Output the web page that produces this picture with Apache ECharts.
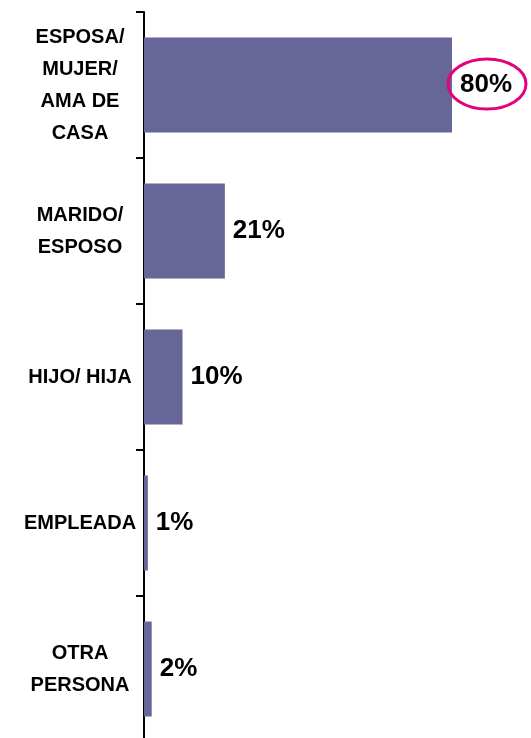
<!DOCTYPE html>
<html>
<head>
<meta charset="utf-8">
<script src="https://cdn.jsdelivr.net/npm/echarts@6/dist/echarts.min.js"></script>
<style>
html,body{margin:0;padding:0;background:#fff;overflow:hidden;}
#c{width:531px;height:746px;}
</style>
</head>
<body>
<div id="c"></div>
<script>
const categories = ['ESPOSA/\nMUJER/\nAMA DE\nCASA', 'MARIDO/\nESPOSO', 'HIJO/ HIJA', 'EMPLEADA', 'OTRA\nPERSONA'];
const values = [80, 21, 10, 1, 2];
const highlightIndex = 0;

const chart = echarts.init(document.getElementById('c'), null, {renderer: 'canvas'});
chart.setOption({
  animation: false,
  backgroundColor: '#ffffff',
  grid: {left: 144, top: 12, width: 385, height: 730, containLabel: false},
  xAxis: {
    type: 'value', min: 0, max: 100, show: false
  },
  yAxis: {
    type: 'category',
    data: categories,
    inverse: true,
    axisLine: {show: true, lineStyle: {color: '#000', width: 2}},
    axisTick: {show: true, length: 8, lineStyle: {color: '#000', width: 2}},
    axisLabel: {
      align: 'center', margin: 64,
      fontFamily: 'Liberation Sans, Arial, sans-serif', fontWeight: 'bold',
      fontSize: 20, lineHeight: 32, color: '#000'
    },
    splitLine: {show: false}
  },
  series: [
    {
      type: 'bar',
      data: values,
      barWidth: 95,
      itemStyle: {color: '#666699'},
      label: {
        show: true, position: 'right', distance: 8,
        formatter: '{c}%',
        fontFamily: 'Liberation Sans, Arial, sans-serif', fontWeight: 'bold',
        fontSize: 26, color: '#000'
      }
    },
    {
      type: 'custom',
      z: 10,
      silent: true,
      data: [[values[highlightIndex], highlightIndex]],
      renderItem: function (params, api) {
        const p = api.coord([api.value(0), api.value(1)]);
        return {
          type: 'ellipse',
          shape: {cx: p[0] + 35, cy: p[1] - 1, rx: 39, ry: 25},
          style: {fill: 'none', stroke: '#E5007E', lineWidth: 3}
        };
      }
    }
  ]
});
</script>
</body>
</html>
